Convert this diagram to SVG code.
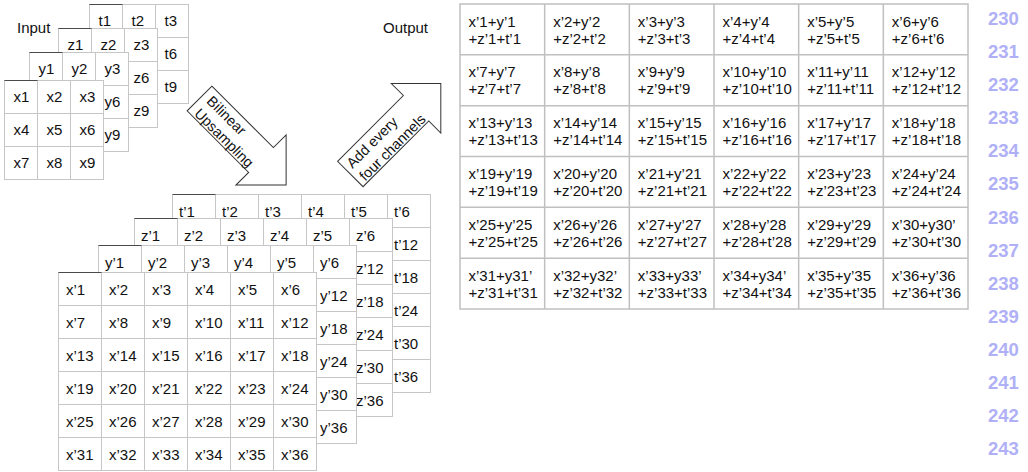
<svg xmlns="http://www.w3.org/2000/svg" width="1028" height="472" viewBox="0 0 1028 472">
<defs>
<style>
text{font-family:"Liberation Sans",Arial,sans-serif;font-size:15px;fill:#111;}
.frame{fill:#fff;stroke:#c6c6c6;stroke-width:1;}
.grid{fill:none;stroke:#c6c6c6;stroke-width:1;}
.tab{fill:none;stroke:#4a4a4a;stroke-width:1.2;}
.oframe{fill:#fff;stroke:#c0c0c0;stroke-width:1.5;}
.ogrid{fill:none;stroke:#c0c0c0;stroke-width:1.5;}
.arrow{fill:#fff;stroke:#333;stroke-width:1;}
.atext{font-size:14.5px;}
.ln{font-size:18.5px;font-weight:bold;fill:#b0b0f6;}
</style>
</defs>
<rect width="1028" height="472" fill="#fff"/>

<text x="17" y="33">Input</text>
<text x="428" y="33" text-anchor="end">Output</text>

<!-- Input grids -->
<g id="input-t">
<rect class="frame" x="89.5" y="4.5" width="99" height="99"/>
<path class="grid" d="M122.5 4.5V103.5M155.5 4.5V103.5M89.5 37.5H188.5M89.5 70.5H188.5"/>
<path class="tab" d="M89.5 4.5H122.5"/>
<text x="98.5" y="26">t1</text><text x="131.5" y="26">t2</text><text x="164.5" y="26">t3</text>
<text x="164.5" y="59">t6</text><text x="164.5" y="92">t9</text>
</g>
<g id="input-z">
<rect class="frame" x="58.5" y="28.5" width="99" height="99"/>
<path class="grid" d="M91.5 28.5V127.5M124.5 28.5V127.5M58.5 61.5H157.5M58.5 94.5H157.5"/>
<path class="tab" d="M58.5 28.5H91.5"/>
<text x="67.5" y="50">z1</text><text x="100.5" y="50">z2</text><text x="133.5" y="50">z3</text>
<text x="133.5" y="83">z6</text><text x="133.5" y="116">z9</text>
</g>
<g id="input-y">
<rect class="frame" x="29.5" y="52.5" width="99" height="99"/>
<path class="grid" d="M62.5 52.5V151.5M95.5 52.5V151.5M29.5 85.5H128.5M29.5 118.5H128.5"/>
<path class="tab" d="M29.5 52.5H62.5"/>
<text x="38.5" y="74">y1</text><text x="71.5" y="74">y2</text><text x="104.5" y="74">y3</text>
<text x="104.5" y="107">y6</text><text x="104.5" y="140">y9</text>
</g>
<g id="input-x">
<rect class="frame" x="4.5" y="80.5" width="99" height="99"/>
<path class="grid" d="M37.5 80.5V179.5M70.5 80.5V179.5M4.5 113.5H103.5M4.5 146.5H103.5"/>
<path class="tab" d="M4.5 80.5H37.5"/>
<text x="13.5" y="102">x1</text><text x="46.5" y="102">x2</text><text x="79.5" y="102">x3</text>
<text x="13.5" y="135">x4</text><text x="46.5" y="135">x5</text><text x="79.5" y="135">x6</text>
<text x="13.5" y="168">x7</text><text x="46.5" y="168">x8</text><text x="79.5" y="168">x9</text>
</g>

<!-- Upsampled grids -->
<g id="up-t">
<rect class="frame" x="172.5" y="194.5" width="258" height="198"/>
<path class="grid" d="M215.5 194.5V392.5M258.5 194.5V392.5M301.5 194.5V392.5M344.5 194.5V392.5M387.5 194.5V392.5M172.5 227.5H430.5M172.5 260.5H430.5M172.5 293.5H430.5M172.5 326.5H430.5M172.5 359.5H430.5"/>
<path class="tab" d="M172.5 194.5H215.5"/>
<text x="179" y="217">t’1</text><text x="222" y="217">t’2</text><text x="265" y="217">t’3</text><text x="308" y="217">t’4</text><text x="351" y="217">t’5</text><text x="394" y="217">t’6</text>
<text x="394" y="250">t’12</text><text x="394" y="283">t’18</text><text x="394" y="316">t’24</text><text x="394" y="349">t’30</text><text x="394" y="382">t’36</text>
</g>
<g id="up-z">
<rect class="frame" x="134.5" y="218.5" width="258" height="198"/>
<path class="grid" d="M177.5 218.5V416.5M220.5 218.5V416.5M263.5 218.5V416.5M306.5 218.5V416.5M349.5 218.5V416.5M134.5 251.5H392.5M134.5 284.5H392.5M134.5 317.5H392.5M134.5 350.5H392.5M134.5 383.5H392.5"/>
<path class="tab" d="M134.5 218.5H177.5"/>
<text x="141" y="241">z’1</text><text x="184" y="241">z’2</text><text x="227" y="241">z’3</text><text x="270" y="241">z’4</text><text x="313" y="241">z’5</text><text x="356" y="241">z’6</text>
<text x="356" y="274">z’12</text><text x="356" y="307">z’18</text><text x="356" y="340">z’24</text><text x="356" y="373">z’30</text><text x="356" y="406">z’36</text>
</g>
<g id="up-y">
<rect class="frame" x="98.5" y="245.5" width="258" height="198"/>
<path class="grid" d="M141.5 245.5V443.5M184.5 245.5V443.5M227.5 245.5V443.5M270.5 245.5V443.5M313.5 245.5V443.5M98.5 278.5H356.5M98.5 311.5H356.5M98.5 344.5H356.5M98.5 377.5H356.5M98.5 410.5H356.5"/>
<path class="tab" d="M98.5 245.5H141.5"/>
<text x="105" y="268">y’1</text><text x="148" y="268">y’2</text><text x="191" y="268">y’3</text><text x="234" y="268">y’4</text><text x="277" y="268">y’5</text><text x="320" y="268">y’6</text>
<text x="320" y="301">y’12</text><text x="320" y="334">y’18</text><text x="320" y="367">y’24</text><text x="320" y="400">y’30</text><text x="320" y="433">y’36</text>
</g>
<g id="up-x">
<rect class="frame" x="58.5" y="272.5" width="258" height="198"/>
<path class="grid" d="M101.5 272.5V470.5M144.5 272.5V470.5M187.5 272.5V470.5M230.5 272.5V470.5M273.5 272.5V470.5M58.5 305.5H316.5M58.5 338.5H316.5M58.5 371.5H316.5M58.5 404.5H316.5M58.5 437.5H316.5"/>
<path class="tab" d="M58.5 272.5H101.5"/>
<text x="66" y="295">x’1</text><text x="109" y="295">x’2</text><text x="152" y="295">x’3</text><text x="195" y="295">x’4</text><text x="238" y="295">x’5</text><text x="281" y="295">x’6</text>
<text x="66" y="328">x’7</text><text x="109" y="328">x’8</text><text x="152" y="328">x’9</text><text x="195" y="328">x’10</text><text x="238" y="328">x’11</text><text x="281" y="328">x’12</text>
<text x="66" y="361">x’13</text><text x="109" y="361">x’14</text><text x="152" y="361">x’15</text><text x="195" y="361">x’16</text><text x="238" y="361">x’17</text><text x="281" y="361">x’18</text>
<text x="66" y="394">x’19</text><text x="109" y="394">x’20</text><text x="152" y="394">x’21</text><text x="195" y="394">x’22</text><text x="238" y="394">x’23</text><text x="281" y="394">x’24</text>
<text x="66" y="427">x’25</text><text x="109" y="427">x’26</text><text x="152" y="427">x’27</text><text x="195" y="427">x’28</text><text x="238" y="427">x’29</text><text x="281" y="427">x’30</text>
<text x="66" y="460">x’31</text><text x="109" y="460">x’32</text><text x="152" y="460">x’33</text><text x="195" y="460">x’34</text><text x="238" y="460">x’35</text><text x="281" y="460">x’36</text>
</g>

<!-- Connectors (block arrows) -->
<g id="connectors">
<g id="arrow-upsample" transform="translate(199.5,98.5) rotate(45)">
<polygon class="arrow" points="0,-17.5 87,-17.5 87,-35.5 122.5,0 87,35.5 87,17.5 0,17.5"/>
<text class="atext" x="7" y="-2">Bilinear</text>
<text class="atext" x="7" y="15.5">Upsampling</text>
</g>
<g id="arrow-add" transform="translate(350.3,174) rotate(-45)">
<polygon class="arrow" points="0,-18 93,-18 93,-35 128,0 93,35 93,18 0,18"/>
<text class="atext" x="5" y="-2">Add every</text>
<text class="atext" x="5" y="16">four channels</text>
</g>
</g>

<!-- Output grid -->
<g id="output">
<rect class="oframe" x="460" y="4" width="508" height="305"/>
<path class="ogrid" d="M544.67 4V309M629.33 4V309M714 4V309M798.67 4V309M883.33 4V309M460 54.83H968M460 105.67H968M460 156.5H968M460 207.33H968M460 258.17H968"/>
<text x="468.5" y="26.5">x’1+y’1<tspan x="468.5" dy="17">+z’1+t’1</tspan></text>
<text x="553.2" y="26.5">x’2+y’2<tspan x="553.2" dy="17">+z’2+t’2</tspan></text>
<text x="637.8" y="26.5">x’3+y’3<tspan x="637.8" dy="17">+z’3+t’3</tspan></text>
<text x="722.5" y="26.5">x’4+y’4<tspan x="722.5" dy="17">+z’4+t’4</tspan></text>
<text x="807.2" y="26.5">x’5+y’5<tspan x="807.2" dy="17">+z’5+t’5</tspan></text>
<text x="891.8" y="26.5">x’6+y’6<tspan x="891.8" dy="17">+z’6+t’6</tspan></text>

<text x="468.5" y="77.3">x’7+y’7<tspan x="468.5" dy="17">+z’7+t’7</tspan></text>
<text x="553.2" y="77.3">x’8+y’8<tspan x="553.2" dy="17">+z’8+t’8</tspan></text>
<text x="637.8" y="77.3">x’9+y’9<tspan x="637.8" dy="17">+z’9+t’9</tspan></text>
<text x="722.5" y="77.3">x’10+y’10<tspan x="722.5" dy="17">+z’10+t’10</tspan></text>
<text x="807.2" y="77.3">x’11+y’11<tspan x="807.2" dy="17">+z’11+t’11</tspan></text>
<text x="891.8" y="77.3">x’12+y’12<tspan x="891.8" dy="17">+z’12+t’12</tspan></text>

<text x="468.5" y="128.2">x’13+y’13<tspan x="468.5" dy="17">+z’13+t’13</tspan></text>
<text x="553.2" y="128.2">x’14+y’14<tspan x="553.2" dy="17">+z’14+t’14</tspan></text>
<text x="637.8" y="128.2">x’15+y’15<tspan x="637.8" dy="17">+z’15+t’15</tspan></text>
<text x="722.5" y="128.2">x’16+y’16<tspan x="722.5" dy="17">+z’16+t’16</tspan></text>
<text x="807.2" y="128.2">x’17+y’17<tspan x="807.2" dy="17">+z’17+t’17</tspan></text>
<text x="891.8" y="128.2">x’18+y’18<tspan x="891.8" dy="17">+z’18+t’18</tspan></text>

<text x="468.5" y="179">x’19+y’19<tspan x="468.5" dy="17">+z’19+t’19</tspan></text>
<text x="553.2" y="179">x’20+y’20<tspan x="553.2" dy="17">+z’20+t’20</tspan></text>
<text x="637.8" y="179">x’21+y’21<tspan x="637.8" dy="17">+z’21+t’21</tspan></text>
<text x="722.5" y="179">x’22+y’22<tspan x="722.5" dy="17">+z’22+t’22</tspan></text>
<text x="807.2" y="179">x’23+y’23<tspan x="807.2" dy="17">+z’23+t’23</tspan></text>
<text x="891.8" y="179">x’24+y’24<tspan x="891.8" dy="17">+z’24+t’24</tspan></text>

<text x="468.5" y="229.8">x’25+y’25<tspan x="468.5" dy="17">+z’25+t’25</tspan></text>
<text x="553.2" y="229.8">x’26+y’26<tspan x="553.2" dy="17">+z’26+t’26</tspan></text>
<text x="637.8" y="229.8">x’27+y’27<tspan x="637.8" dy="17">+z’27+t’27</tspan></text>
<text x="722.5" y="229.8">x’28+y’28<tspan x="722.5" dy="17">+z’28+t’28</tspan></text>
<text x="807.2" y="229.8">x’29+y’29<tspan x="807.2" dy="17">+z’29+t’29</tspan></text>
<text x="891.8" y="229.8">x’30+y30’<tspan x="891.8" dy="17">+z’30+t’30</tspan></text>

<text x="468.5" y="280.7">x’31+y31’<tspan x="468.5" dy="17">+z’31+t’31</tspan></text>
<text x="553.2" y="280.7">x’32+y32’<tspan x="553.2" dy="17">+z’32+t’32</tspan></text>
<text x="637.8" y="280.7">x’33+y33’<tspan x="637.8" dy="17">+z’33+t’33</tspan></text>
<text x="722.5" y="280.7">x’34+y34’<tspan x="722.5" dy="17">+z’34+t’34</tspan></text>
<text x="807.2" y="280.7">x’35+y’35<tspan x="807.2" dy="17">+z’35+t’35</tspan></text>
<text x="891.8" y="280.7">x’36+y’36<tspan x="891.8" dy="17">+z’36+t’36</tspan></text>
</g>

<!-- Line numbers -->
<g id="line-numbers">
<text class="ln" x="988" y="25">230</text>
<text class="ln" x="988" y="58.1">231</text>
<text class="ln" x="988" y="91.2">232</text>
<text class="ln" x="988" y="124.2">233</text>
<text class="ln" x="988" y="157.3">234</text>
<text class="ln" x="988" y="190.4">235</text>
<text class="ln" x="988" y="223.5">236</text>
<text class="ln" x="988" y="256.6">237</text>
<text class="ln" x="988" y="289.6">238</text>
<text class="ln" x="988" y="322.7">239</text>
<text class="ln" x="988" y="355.8">240</text>
<text class="ln" x="988" y="388.9">241</text>
<text class="ln" x="988" y="422">242</text>
<text class="ln" x="988" y="455">243</text>
</g>
</svg>
